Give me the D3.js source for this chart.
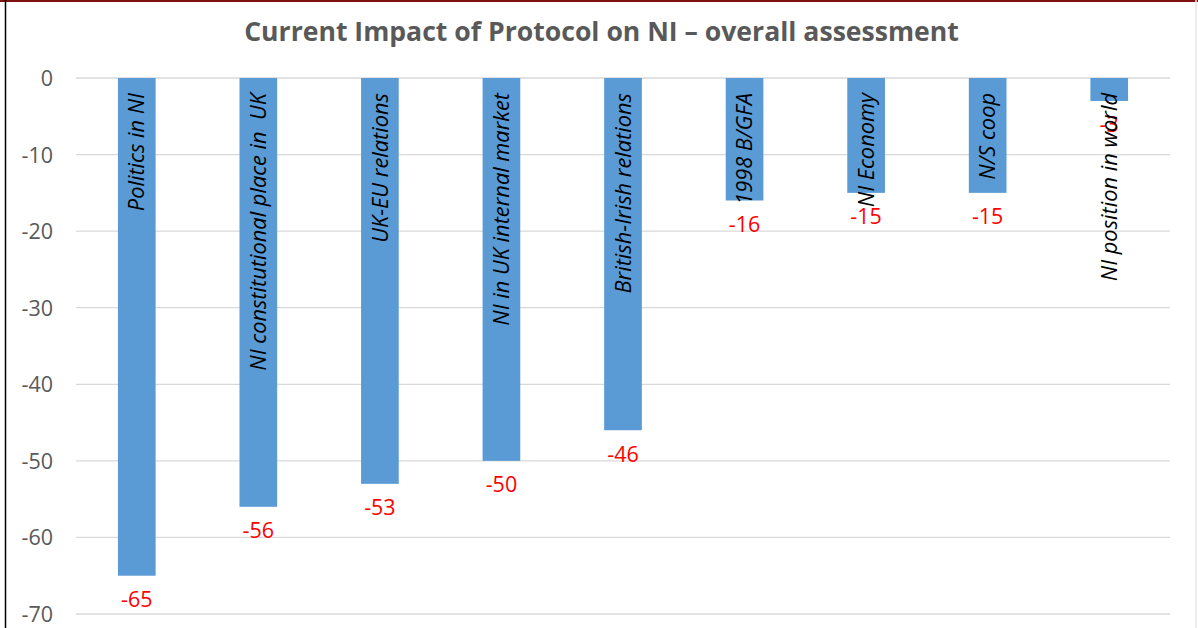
<!DOCTYPE html>
<html><head><meta charset="utf-8">
<script src="https://cdn.jsdelivr.net/npm/d3@7"></script>
<style>
html,body{margin:0;padding:0;background:#fff;}
svg{display:block;}
</style></head>
<body>
<svg id="chart" width="1198" height="628"></svg>
<script>
const categories = ["Politics in NI","NI constitutional place in  UK","UK-EU relations","NI in UK internal market","British-Irish relations","1998 B/GFA","NI Economy","N/S coop","NI position in world"];
const values = [-65,-56,-53,-50,-46,-16,-15,-15,-3];
const yTicks = [0,-10,-20,-30,-40,-50,-60,-70];
const title = "Current Impact of Protocol on NI \u2013 overall assessment";

(function(){
const svg = d3.select("#chart");
const W = 1198, H = 628;
const mLeft = 76, mRight = 1170, mTop = 78, mBottom = 614;
const fmt = d => String(d);

svg.append("rect").attr("x",0).attr("y",0).attr("width",W).attr("height",H).attr("fill","#fff");

const x = d3.scaleBand().domain(categories).range([mLeft,mRight]).paddingInner(0.69).paddingOuter(0.345);
const y = d3.scaleLinear().domain([0,-70]).range([mTop,mBottom]);

// gridlines
svg.append("g").selectAll("line").data(yTicks).join("line")
  .attr("x1",mLeft).attr("x2",mRight)
  .attr("y1",d=>y(d)).attr("y2",d=>y(d))
  .attr("stroke","#d9d9d9").attr("stroke-width",1.3);

// y axis labels
const yAxis = d3.axisLeft(y).tickValues(yTicks).tickSize(0).tickPadding(0).tickFormat(fmt);
const ga = svg.append("g").attr("transform",`translate(${53},0)`).call(yAxis);
ga.select(".domain").remove();
ga.selectAll("text").attr("font-family","'Open Sans', sans-serif").attr("font-size",21.5).attr("fill","#595959").attr("dy","0.35em");

// bars
svg.append("g").selectAll("rect").data(values).join("rect")
  .attr("x",(d,i)=>x(categories[i]))
  .attr("y",y(0))
  .attr("width",x.bandwidth())
  .attr("height",d=>y(d)-y(0))
  .attr("fill","#5b9bd5");

// value labels
svg.append("g").selectAll("text").data(values).join("text")
  .attr("x",(d,i)=>x(categories[i])+x.bandwidth()/2)
  .attr("y",d=>y(d)+24)
  .attr("dy","0.35em")
  .attr("text-anchor","middle")
  .attr("font-family","'Open Sans', sans-serif").attr("font-size",21.5)
  .attr("fill","#ff0000")
  .text(fmt);

// category labels (rotated, inside bars)
svg.append("g").selectAll("text").data(categories).join("text")
  .attr("transform",(d)=>`translate(${x(d)+x.bandwidth()/2},${y(0)+15}) rotate(-90)`)
  .attr("dy","0.35em")
  .attr("text-anchor","end")
  .attr("font-family","'Open Sans', sans-serif").attr("font-style","italic").attr("font-size",21.8)
  .attr("fill","#000")
  .attr("xml:space","preserve")
  .style("white-space","pre")
  .text(d=>d);

// title
svg.append("text").attr("x",(245+958)/2).attr("y",41)
  .attr("text-anchor","middle")
  .attr("font-family","'Open Sans', sans-serif").attr("font-weight","bold").attr("font-size",26.6)
  .attr("fill","#595959").text(title);

// frame
svg.append("line").attr("x1",0).attr("x2",W).attr("y1",1).attr("y2",1).attr("stroke","#7f1010").attr("stroke-width",2);
svg.append("line").attr("x1",5.5).attr("x2",5.5).attr("y1",0).attr("y2",H).attr("stroke","#000").attr("stroke-width",1.5);
svg.append("line").attr("x1",1196).attr("x2",1196).attr("y1",0).attr("y2",H).attr("stroke","#e6e6e6").attr("stroke-width",1.5);
})();
</script>
</body></html>
